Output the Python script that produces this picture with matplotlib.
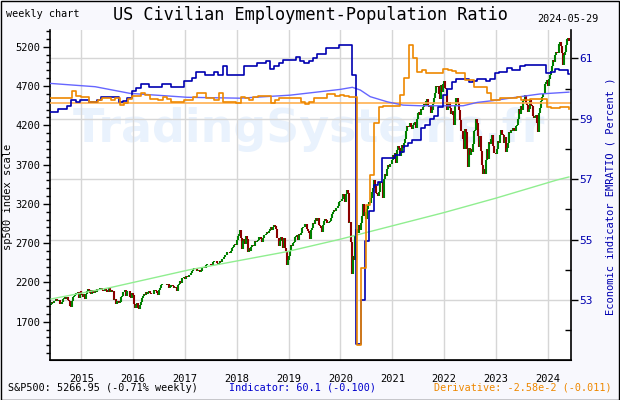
import numpy as np
import pandas as pd
import matplotlib
matplotlib.use("Agg")
import matplotlib.pyplot as plt
import matplotlib.transforms as mtransforms
from matplotlib.patches import Rectangle

# S&P500 weekly closes (Fridays), 2014-05-30 .. 2024-05-29
spx_close = [
    # 2014
    1924, 1950, 1936, 1963, 1961, 1985, 1968, 1978, 1978, 1925, 1931, 1955, 1988, 2003, 2008, 1985,
    2010, 1982, 1968, 1906, 1887, 1965, 2018, 2032, 2039, 2064, 2068, 2075, 2003, 2071, 2089,
    # 2015
    2058, 2045, 2019, 2051, 1995, 2055, 2097, 2110, 2105, 2071, 2053, 2108, 2061, 2067, 2102, 2081,
    2117, 2108, 2116, 2123, 2126, 2107, 2092, 2094, 2110, 2101, 2077, 2076, 2127, 2079, 2104, 2078,
    2092, 1971, 1989, 1921, 1961, 1958, 1932, 1951, 2015, 2033, 2075, 2079, 2100, 2023, 2089, 2090,
    2092, 2012, 2006, 2061, 2044,
    # 2016
    1922, 1880, 1907, 1940, 1880, 1865, 1918, 1948, 1999, 2022, 2050, 2035, 2073, 2048, 2081, 2092,
    2065, 2057, 2047, 2052, 2099, 2099, 2096, 2071, 2037, 2103, 2130, 2162, 2175, 2174, 2183, 2184,
    2184, 2169, 2180, 2128, 2139, 2165, 2168, 2153, 2133, 2141, 2126, 2085, 2164, 2182, 2213, 2192,
    2260, 2258, 2264, 2239,
    # 2017
    2277, 2275, 2271, 2295, 2297, 2316, 2351, 2367, 2383, 2373, 2378, 2344, 2363, 2355, 2329, 2349,
    2384, 2399, 2391, 2382, 2416, 2439, 2432, 2433, 2438, 2423, 2425, 2459, 2473, 2472, 2477, 2441,
    2426, 2443, 2477, 2461, 2500, 2502, 2519, 2549, 2553, 2575, 2581, 2588, 2582, 2579, 2602, 2642,
    2652, 2675, 2683, 2674,
    # 2018
    2743, 2786, 2810, 2873, 2762, 2620, 2732, 2747, 2691, 2786, 2752, 2588, 2641, 2604, 2656, 2670,
    2670, 2663, 2728, 2713, 2721, 2735, 2779, 2780, 2755, 2718, 2760, 2801, 2802, 2819, 2840, 2833,
    2850, 2875, 2902, 2872, 2905, 2930, 2914, 2885, 2767, 2768, 2659, 2723, 2781, 2736, 2633, 2760,
    2633, 2600, 2417, 2486,
    # 2019
    2532, 2596, 2671, 2665, 2707, 2708, 2776, 2793, 2804, 2743, 2822, 2800, 2834, 2893, 2907, 2905,
    2940, 2946, 2881, 2860, 2826, 2752, 2873, 2887, 2950, 2942, 2990, 3014, 2977, 3026, 2932, 2919,
    2889, 2847, 2926, 2979, 3007, 2992, 2962, 2952, 2970, 2986, 3023, 3067, 3093, 3120, 3110, 3141,
    3146, 3169, 3221, 3240,
    # 2020
    3235, 3265, 3330, 3295, 3226, 3328, 3380, 3338, 2954, 2972, 2711, 2305, 2541, 2489, 2790, 2875,
    2837, 2831, 2930, 2864, 2955, 3044, 3194, 3041, 3098, 3009, 3130, 3185, 3225, 3216, 3271, 3351,
    3373, 3397, 3508, 3427, 3341, 3319, 3298, 3348, 3477, 3484, 3465, 3270, 3510, 3585, 3558, 3638,
    3699, 3663, 3709, 3703, 3756,
    # 2021
    3825, 3768, 3841, 3714, 3887, 3934, 3907, 3811, 3842, 3943, 3913, 3975, 4020, 4129, 4185, 4180,
    4181, 4233, 4174, 4156, 4204, 4230, 4247, 4166, 4281, 4352, 4370, 4327, 4412, 4395, 4437, 4468,
    4442, 4509, 4535, 4459, 4433, 4455, 4357, 4391, 4471, 4545, 4605, 4697, 4683, 4698, 4595, 4538,
    4712, 4621, 4726, 4766,
    # 2022
    4677, 4663, 4398, 4432, 4501, 4419, 4349, 4385, 4329, 4204, 4463, 4543, 4546, 4488, 4393, 4272,
    4132, 4123, 4024, 3901, 4158, 4109, 3901, 3675, 3912, 3825, 3899, 3863, 3962, 4130, 4145, 4280,
    4228, 4058, 3924, 4067, 3873, 3693, 3586, 3640, 3583, 3753, 3901, 3771, 3993, 3965, 4026, 4072,
    3934, 3852, 3845, 3840,
    # 2023
    3895, 3999, 3973, 4071, 4136, 4090, 4079, 3970, 4046, 3862, 3917, 3971, 4109, 4105, 4138, 4133,
    4169, 4136, 4124, 4192, 4205, 4282, 4299, 4410, 4348, 4450, 4399, 4505, 4536, 4582, 4478, 4464,
    4370, 4406, 4516, 4457, 4450, 4320, 4288, 4308, 4327, 4224, 4117, 4358, 4415, 4514, 4559, 4595,
    4604, 4719, 4755, 4770,
    # 2024
    4697, 4784, 4840, 4891, 4959, 5027, 5006, 5089, 5137, 5124, 5117, 5234, 5254, 5204, 5123, 4967,
    5100, 5128, 5223, 5303, 5305, 5267,
]
spx_first_open = 1910

# EMRATIO as drawn (monthly, May 2014 .. May 2024), right axis
emratio = [
    59.21, 59.21, 59.31, 59.31, 59.42, 59.62, 59.56, 59.62, 59.62, 59.56, 59.56, 59.62,
    59.71, 59.71, 59.71, 59.71, 59.56, 59.60, 59.68, 59.93, 60.01, 60.15, 60.15, 60.04,
    60.04, 60.04, 60.15, 60.15, 60.04, 60.04, 60.04, 60.26, 60.26, 60.34, 60.54, 60.54,
    60.45, 60.45, 60.54, 60.45, 60.75, 60.45, 60.45, 60.45, 60.45, 60.75, 60.75, 60.75,
    60.84, 60.84, 60.92, 60.64, 60.75, 60.84, 60.94, 60.94, 60.94, 61.03, 60.92, 60.84,
    60.92, 61.00, 61.14, 61.14, 61.33, 61.33, 61.33, 61.44, 61.44, 61.44, 60.45, 51.55,
    53.00, 54.95, 55.95, 56.80, 56.90, 57.70, 57.70, 57.70, 57.80, 57.90, 58.10, 58.20,
    58.30, 58.30, 58.70, 58.80, 59.00, 59.10, 59.40, 59.80, 60.00, 60.20, 60.30, 60.30,
    60.30, 60.20, 60.25, 60.30, 60.30, 60.25, 60.30, 60.50, 60.55, 60.55, 60.67, 60.60,
    60.60, 60.75, 60.78, 60.78, 60.78, 60.78, 60.78, 60.50, 60.56, 60.64, 60.61, 60.61,
    60.47,
]

# derivative curve as drawn on the right axis (monthly)
deriv = [
    59.68, 59.68, 59.69, 59.68, 59.68, 59.93, 59.76, 59.73, 59.73, 59.56, 59.56, 59.62,
    59.70, 59.70, 59.62, 59.68, 59.45, 59.53, 59.64, 59.75, 59.75, 59.84, 59.79, 59.64,
    59.64, 59.62, 59.71, 59.64, 59.56, 59.56, 59.56, 59.62, 59.62, 59.73, 59.84, 59.84,
    59.68, 59.68, 59.62, 59.84, 59.56, 59.56, 59.56, 59.53, 59.73, 59.68, 59.62, 59.73,
    59.75, 59.75, 59.75, 59.51, 59.62, 59.68, 59.68, 59.68, 59.68, 59.68, 59.56, 59.49,
    59.56, 59.68, 59.68, 59.68, 59.82, 59.82, 59.75, 59.79, 59.75, 59.72, 59.72, 51.51,
    54.06, 56.14, 57.14, 58.86, 59.40, 59.43, 59.43, 59.43, 59.43, 59.79, 60.35, 61.44,
    61.01, 60.56, 60.61, 60.52, 60.50, 60.50, 60.50, 60.64, 60.61, 60.59, 60.50, 60.50,
    60.28, 60.28, 60.06, 60.06, 60.06, 59.85, 59.62, 59.62, 59.68, 59.68, 59.68, 59.68,
    59.73, 59.62, 59.62, 59.64, 59.64, 59.64, 59.64, 59.38, 59.35, 59.35, 59.40, 59.40,
    59.32,
]
deriv_zero = 59.52

# slow average of the indicator (right axis)
avg_dates = ["2014-05-25", "2015-04-08", "2015-12-09", "2017-01-15", "2018-01-24", "2019-01-11",
             "2019-12-29", "2020-03-25", "2020-05-20", "2020-07-29", "2020-11-26", "2021-03-18",
             "2021-07-16", "2022-05-15", "2022-08-22", "2022-12-13", "2023-06-20", "2023-11-08",
             "2024-05-29"]
avg_vals = [60.17, 60.06, 59.84, 59.71, 59.68, 59.78, 59.97, 60.04, 59.95, 59.73, 59.56, 59.45,
            59.43, 59.43, 59.54, 59.60, 59.73, 59.82, 59.88]

# long-term trend of the index (left axis)
trend_dates = ["2014-06-01", "2015-08-03", "2017-01-25", "2018-12-18", "2019-12-29",
               "2021-12-27", "2022-12-27", "2024-03-05", "2024-05-29"]
trend_vals = [1989, 2138, 2358, 2591, 2749, 3087, 3270, 3503, 3542]

years = [2015, 2016, 2017, 2018, 2019, 2020, 2021, 2022, 2023, 2024]
left_ticks = [1700, 2200, 2700, 3200, 3700, 4200, 4700, 5200]
right_ticks = [53, 55, 57, 59, 61]

mono = "DejaVu Sans Mono"
bg = "#f8f8fd"
navy = "#0000b0"
gridc = "#d6d6d6"

fig = plt.figure(figsize=(6.2, 4.0), dpi=100, facecolor=bg)
ax = fig.add_axes([50 / 620, 40 / 400, 521 / 620, 330 / 400])
ax2 = ax.twinx()
ax.set_facecolor("white")
ax2.patch.set_visible(False)

x0, x1 = pd.Timestamp("2014-05-25"), pd.Timestamp("2024-06-13")
ax.set_xlim(x0, x1)
ax.set_ylim(1212.5, 5412.5)
ax2.set_ylim(51.014, 61.937)

# watermark
ax.text(0.044, 0.70, "TradingSystems.fr", transform=ax.transAxes, fontsize=33,
        fontweight="bold", color="#e9f2fd", va="center", ha="left", zorder=0)

# grid
for y in years:
    ax.axvline(pd.Timestamp(f"{y}-01-01"), color=gridc, lw=1.0, zorder=1)
blend = mtransforms.blended_transform_factory(ax.transAxes, ax2.transData)
for v in right_ticks:
    ax.plot([0, 1], [v, v], transform=blend, color=gridc, lw=1.0, zorder=1)

# S&P weekly bars
wk = pd.date_range("2014-05-30", periods=len(spx_close), freq="W-FRI")
close = np.array(spx_close, dtype=float)
opn = np.concatenate([[spx_first_open], close[:-1]])
cols = np.where(close >= opn, "#008000", "#8b0000")
ax.vlines(wk, np.minimum(opn, close), np.maximum(opn, close), colors=cols, lw=1.5, zorder=2)

# trend line
ax.plot(pd.to_datetime(trend_dates), trend_vals, color="#90ee90", lw=1.0, zorder=3)

# indicator lines
mstart = pd.date_range("2014-05-01", periods=len(emratio), freq="MS")
end = pd.Timestamp("2024-05-29")
mx_ind = list(mstart + pd.Timedelta(days=21)) + [end]
mx_der = list(mstart + pd.Timedelta(days=26)) + [end]
ax2.axhline(deriv_zero, color="#ffb050", lw=1.2, zorder=2)
ax2.plot(pd.to_datetime(avg_dates), avg_vals, color="#6666ff", lw=1.0, zorder=3)
ax2.plot(mx_ind, emratio + [emratio[-1]], drawstyle="steps-post", color=navy, lw=1.2, zorder=4)
ax2.plot(mx_der, deriv + [deriv[-1]], drawstyle="steps-post", color="#ee8800", lw=1.2, zorder=5)
ax2.set_xlim(x0, x1)

# axes styling
for a in (ax, ax2):
    a.spines["top"].set_visible(False)
ax.spines["right"].set_visible(False)
ax2.spines["left"].set_visible(False)
for s in ("left", "bottom"):
    ax.spines[s].set_linewidth(1.2)
ax2.spines["right"].set_linewidth(1.2)

ax.set_yticks(left_ticks)
ax.set_yticklabels([str(t) for t in left_ticks], fontsize=7.5, family=mono)
ax.set_yticks(range(1300, 5401, 100), minor=True)
ax.tick_params(axis="y", which="major", length=5, width=1, direction="out", pad=2)
ax.tick_params(axis="y", which="minor", length=3, width=1, direction="out")

ax2.set_yticks(right_ticks)
ax2.set_yticklabels([str(t) for t in right_ticks], fontsize=8, family=mono, color=navy)
ax2.set_yticks([52, 54, 56, 58, 60], minor=True)
ax2.tick_params(axis="y", which="major", length=5, width=1, direction="out", pad=1)
ax2.tick_params(axis="y", which="minor", length=4, width=1, direction="in")

ax.set_xticks([pd.Timestamp(f"{y}-01-01") for y in years])
ax.set_xticklabels([str(y) for y in years], fontsize=7.5, family=mono)
ax.tick_params(axis="x", length=0, pad=10)
ax2.tick_params(axis="x", length=0)

ax.set_ylabel("sp500 index scale", fontsize=7.5, family=mono)
ax.yaxis.set_label_coords(-0.071, 0.495)
ax2.set_ylabel("Economic indicator EMRATIO ( Percent )", fontsize=7.5, family=mono,
               color=navy)
ax2.yaxis.set_label_coords(1.067, 0.495)

# header & footer
fig.text(6 / 620, 1 - 14 / 400, "weekly chart", fontsize=7.3, family=mono, va="center")
fig.text(310 / 620, 1 - 15 / 400, "US Civilian Employment-Population Ratio", fontsize=12.2,
         family=mono, ha="center", va="center")
fig.text(598 / 620, 1 - 19 / 400, "2024-05-29", fontsize=7.3, family=mono, ha="right",
         va="center")
fig.text(8 / 620, 1 - 388 / 400, "S&P500: 5266.95 (-0.71% weekly)", fontsize=7.3,
         family=mono, va="center")
fig.text(229 / 620, 1 - 388 / 400, "Indicator: 60.1 (-0.100)", fontsize=7.3, family=mono,
         color="#0000cc", va="center")
fig.text(434 / 620, 1 - 388 / 400, "Derivative: -2.58e-2 (-0.011)", fontsize=7.3,
         family=mono, color="#ee8800", va="center")

fig.patches.append(Rectangle((0.5 / 620, 0.5 / 400), 618.5 / 620, 398.5 / 400,
                             transform=fig.transFigure, fill=False, ec="black", lw=1))

fig.savefig("out.png", dpi=100, facecolor=bg)
